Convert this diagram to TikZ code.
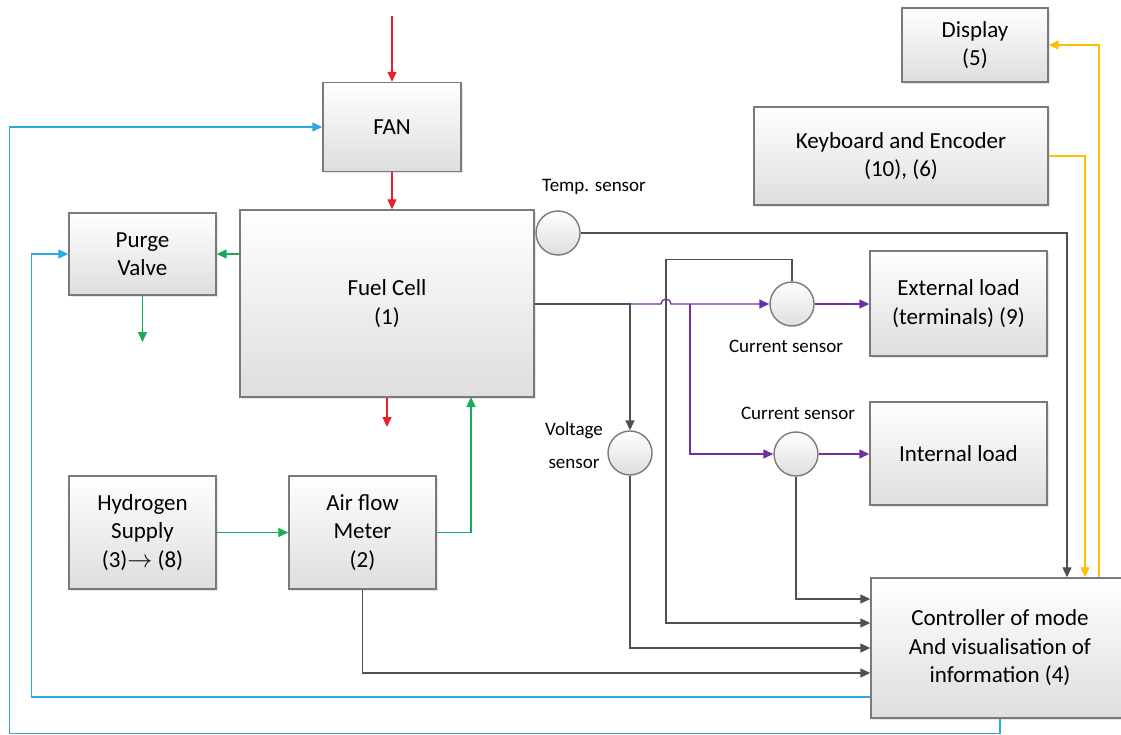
\documentclass[tikz,border=0pt]{standalone}
\usepackage{fontspec}
\setmainfont{Carlito}
\usetikzlibrary{arrows.meta,shadows}

\definecolor{boxgray}{HTML}{7A7A7A}
\definecolor{wiregray}{HTML}{505050}
\definecolor{airred}{HTML}{E8202A}
\definecolor{gasgreen}{HTML}{1AAA55}
\definecolor{ctlcyan}{HTML}{2AAAE0}
\definecolor{pwrpurple}{HTML}{7030A0}
\definecolor{uiyellow}{HTML}{FFC000}

\tikzset{
  blk/.style={draw=boxgray, line width=1.4pt, top color=white, bottom color=black!13,
              drop shadow={shadow xshift=2pt, shadow yshift=-2pt, opacity=0.2},
              align=center, inner sep=2pt, font=\fontsize{23}{28.5}\selectfont},
  sensor/.style={circle, draw=boxgray, line width=1.4pt, top color=white, bottom color=black!13,
                 minimum size=44pt, inner sep=0pt},
  lbl/.style={align=center, font=\fontsize{19}{24}\selectfont},
  wire/.style={line width=1.3pt, -{Triangle[length=10pt,width=9pt]}}
}

\begin{document}
\begin{tikzpicture}[x=1pt, y=-1pt]
  \useasboundingbox (0,0) rectangle (1121,735);

  \node[blk, minimum width=138pt, minimum height=89pt] (fan) at (392,127) {FAN};
  \node[blk, minimum width=294pt, minimum height=187pt] (fc) at (387,303.5) {Fuel Cell\\(1)};
  \node[blk, minimum width=147pt, minimum height=82pt] (purge) at (142.5,254) {Purge\\Valve};
  \node[blk, minimum width=147pt, minimum height=113pt] (hyd) at (142.5,532.5) {Hydrogen\\Supply\\(3)$\rightarrow$ (8)};
  \node[blk, minimum width=147pt, minimum height=113pt] (air) at (362.5,532.5) {Air flow\\Meter\\(2)};
  \node[blk, minimum width=146pt, minimum height=74pt] (disp) at (975,45) {Display\\(5)};
  \node[blk, minimum width=294pt, minimum height=98pt] (kbd) at (901,156) {Keyboard and Encoder\\(10), (6)};
  \node[blk, minimum width=177pt, minimum height=105pt] (ext) at (958.5,303.5) {External load\\(terminals) (9)};
  \node[blk, minimum width=177pt, minimum height=103pt] (intl) at (958.5,453.5) {Internal load};
  \node[blk, minimum width=258pt, minimum height=140pt] (ctrl) at (1000,648) {Controller of mode\\And visualisation of\\information (4)};

  \node[sensor] (temp) at (558,233) {};
  \node[sensor] (cs1) at (792,304) {};
  \node[sensor] (cs2) at (796,454) {};
  \node[sensor] (vs) at (630,453) {};

  \node[lbl] (templbl) at (594,187) {Temp. sensor};
  \node[lbl] (cs1lbl) at (786,346) {Current sensor};
  \node[lbl] (cs2lbl) at (798,413) {Current sensor};
  \node[lbl, font=\fontsize{19}{33}\selectfont] (vslbl) at (574,445) {Voltage\\sensor};

  \coordinate (airin) at (392,16);
  \coordinate (exhaust) at (387,427);
  \coordinate (drain) at (142.5,342);
  \coordinate (h2in) at (471,397);
  \coordinate (hop) at (661,304);
  \coordinate (vtap) at (630,304);
  \coordinate (branch) at (690,304);

  \draw[wire, airred] (airin) -- (fan);
  \draw[wire, airred] (fan) -- (fan |- fc.north);
  \draw[wire, airred] (fc.south) -- (exhaust);

  \draw[wire, gasgreen] (purge.east -| fc.west) -- (purge.east);
  \draw[wire, gasgreen] (purge) -- (drain);
  \draw[wire, gasgreen] (hyd) -- (air);
  \draw[wire, gasgreen] (air.east) -| (h2in);

  \draw[wire, pwrpurple] (fc.east |- cs1) -- (hop) arc (180:360:5) -- (cs1);
  \draw[wire, pwrpurple] (branch) |- (cs2);
  \draw[wire, pwrpurple] (cs1) -- (cs1 -| ext.west);
  \draw[wire, pwrpurple] (cs2) -- (cs2 -| intl.west);

  \draw[wire, wiregray] (fc.east |- cs1) -- (vtap) -- (vs);
  \draw[wire, wiregray] (vs) |- (ctrl.west);
  \draw[wire, wiregray] (cs2) |- ([yshift=49pt]ctrl.west);
  \draw[wire, wiregray] (cs1.north) -- ++(0,-22) -- ++(-126,0) |- ([yshift=25pt]ctrl.west);
  \draw[wire, wiregray] (air.south) |- ([yshift=-25pt]ctrl.west);
  \draw[wire, wiregray] (temp.east) -| ([xshift=67pt]ctrl.north);

  \draw[wire, uiyellow] (kbd.east) -| ([xshift=85pt]ctrl.north);
  \draw[wire, uiyellow] ([xshift=99pt]ctrl.north) |- (disp.east);

  \draw[wire, ctlcyan] ([yshift=-49pt]ctrl.west) -| ([xshift=-37pt]purge.west) -- (purge.west);
  \draw[wire, ctlcyan] (ctrl.south) -- ++(0,15) -| ([xshift=-313pt]fan.west) -- (fan.west);
\end{tikzpicture}
\end{document}
